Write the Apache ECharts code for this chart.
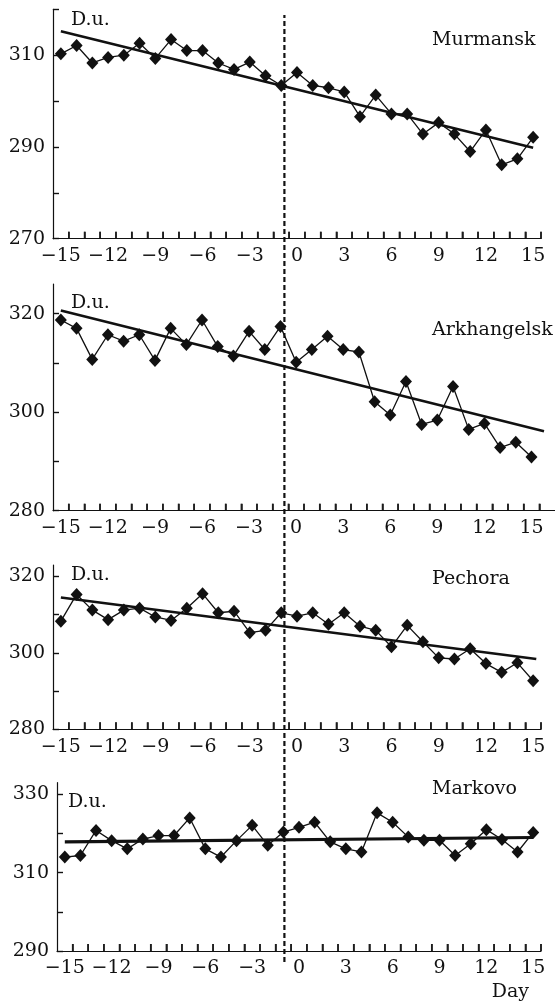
<!DOCTYPE html>
<html>
<head>
<meta charset="utf-8">
<title>Total ozone around the event day</title>
<script src="https://cdn.jsdelivr.net/npm/echarts@6/dist/echarts.min.js"></script>
<style>
  html, body { margin: 0; padding: 0; background: #fff; }
  #chart { width: 555px; height: 1003px; }
</style>
</head>
<body>
<div id="chart"></div>
<script>
const FONT = "'DejaVu Serif', serif"
const INK = '#111'

// days relative to the event
const days = [-15, -14, -13, -12, -11, -10, -9, -8, -7, -6, -5, -4, -3, -2, -1,
  0, 1, 2, 3, 4, 5, 6, 7, 8, 9, 10, 11, 12, 13, 14, 15]

// total ozone, D.u.
const murmansk = [310.3, 312.1, 308.3, 309.5, 310.0, 312.6, 309.3, 313.4, 311.0, 311.0, 308.3, 306.9, 308.5, 305.5, 303.4,
  306.2, 303.4, 302.9, 302.0, 296.6, 301.3, 297.2, 297.2, 292.8, 295.3, 292.8, 289.0, 293.7, 286.1, 287.4, 292.1]
const arkhangelsk = [318.7, 317.0, 310.7, 315.7, 314.4, 315.7, 310.5, 317.0, 313.7, 318.7, 313.3, 311.4, 316.4, 312.7, 317.4,
  310.1, 312.7, 315.4, 312.7, 312.2, 302.1, 299.4, 306.2, 297.5, 298.4, 305.2, 296.5, 297.7, 292.8, 293.9, 290.9]
const pechora = [308.3, 315.3, 311.2, 308.7, 311.2, 311.7, 309.4, 308.5, 311.7, 315.5, 310.5, 310.9, 305.3, 305.9, 310.5,
  309.6, 310.5, 307.5, 310.5, 307.0, 305.9, 301.6, 307.2, 302.9, 298.7, 298.4, 301.1, 297.2, 294.9, 297.4, 292.7]
const markovo = [314.0, 314.4, 320.8, 318.2, 316.1, 318.6, 319.5, 319.5, 324.0, 316.1, 314.0, 318.2, 322.1, 317.0, 320.4,
  321.6, 322.9, 317.9, 316.1, 315.3, 325.3, 322.9, 319.1, 318.3, 318.3, 314.4, 317.4, 321.0, 318.5, 315.3, 320.3]

// linear trends, [day, D.u.] end points
const murmanskTrend = [[-15, 315.2], [15, 289.8]]
const arkhangelskTrend = [[-15, 320.6], [15.8, 296.1]]
const pechoraTrend = [[-15, 314.5], [15.2, 298.4]]
const markovoTrend = [[-15, 317.9], [15, 319.0]]

// axis ticks and labels
const dayLabels = [-15, -12, -9, -6, -3, 0, 3, 6, 9, 12, 15]
const dayTicks = [-14.5, -13.5, -12.5, -11.5, -10.5, -9.5, -8.5, -7.5, -6.5, -5.5, -4.5, -3.5, -2.5, -1.5, -0.5,
  0.5, 1.5, 2.5, 3.5, 4.5, 5.5, 6.5, 7.5, 8.5, 9.5, 10.5, 11.5, 12.5, 13.5, 14.5, 15.5]
const murmanskTicks = [270, 280, 290, 300, 310, 320]
const murmanskLabels = [270, 290, 310]
const arkhangelskTicks = [280, 290, 300, 310, 320]
const arkhangelskLabels = [280, 300, 320]
const pechoraTicks = [280, 290, 300, 310, 320]
const pechoraLabels = [280, 300, 320]
const markovoTicks = [290, 300, 310, 320, 330]
const markovoLabels = [290, 310, 330]

// day of the event (dashed line through all panels)
const eventDay = -0.8

const panels = [
  { name: 'Murmansk', values: murmansk, trend: murmanskTrend, ticks: murmanskTicks, labels: murmanskLabels,
    yMin: 270, yMax: 320, xMax: 15.5, top: 9.3, bottom: 764.3, left: 53, right: 14, titleTop: 31, unitGap: -10.7, unitPad: 18 },
  { name: 'Arkhangelsk', values: arkhangelsk, trend: arkhangelskTrend, ticks: arkhangelskTicks, labels: arkhangelskLabels,
    yMin: 280, yMax: 326, xMax: 16.5, top: 284, bottom: 492.3, left: 53, right: 0, titleTop: 321, unitGap: -18.7, unitPad: 18 },
  { name: 'Pechora', values: pechora, trend: pechoraTrend, ticks: pechoraTicks, labels: pechoraLabels,
    yMin: 280, yMax: 323, xMax: 15.5, top: 565, bottom: 273.7, left: 53, right: 14, titleTop: 570, unitGap: -10, unitPad: 18 },
  { name: 'Markovo', values: markovo, trend: markovoTrend, ticks: markovoTicks, labels: markovoLabels,
    yMin: 290, yMax: 333, xMax: 15.5, top: 782.7, bottom: 52, left: 57, right: 14, titleTop: 780, unitGap: -19, unitPad: 11, dayName: true },
]

function dayText(v) {
  return v < 0 ? '\u2212' + (-v) : String(v)
}

const grids = []
const xAxes = []
const yAxes = []
const series = []
const titles = []

panels.forEach((p, i) => {
  grids.push({ left: p.left, right: p.right, top: p.top, bottom: p.bottom })
  titles.push({
    text: p.name, left: 432, top: p.titleTop, padding: 0,
    textStyle: { fontFamily: FONT, fontSize: 19, fontWeight: 'normal', color: INK },
  })
  xAxes.push({
    type: 'value', gridIndex: i, min: -15.5, max: p.xMax,
    axisLine: { show: true, onZero: false, lineStyle: { color: INK, width: 1.2 } },
    axisTick: { show: true, inside: true, length: 7, customValues: dayTicks, lineStyle: { color: INK, width: 1.5 } },
    axisLabel: { fontFamily: FONT, fontSize: 19, color: INK, margin: 8, customValues: dayLabels, formatter: dayText },
    splitLine: { show: false },
    name: p.dayName ? 'Day' : '',
    nameLocation: 'end',
    nameGap: 0,
    nameTextStyle: { fontFamily: FONT, fontSize: 19, color: INK, align: 'right', verticalAlign: 'top', padding: [32, 12, 0, 0] },
  })
  yAxes.push({
    type: 'value', gridIndex: i, min: p.yMin, max: p.yMax,
    axisLine: { show: true, onZero: false, lineStyle: { color: INK, width: 1.2 } },
    axisTick: { show: true, inside: true, length: 6, customValues: p.ticks, lineStyle: { color: INK, width: 1.4 } },
    axisLabel: { fontFamily: FONT, fontSize: 19, color: INK, margin: 8, customValues: p.labels },
    splitLine: { show: false },
    name: 'D.u.',
    nameLocation: 'end',
    nameGap: p.unitGap,
    nameTextStyle: { fontFamily: FONT, fontSize: 19, color: INK, align: 'left', verticalAlign: 'middle', padding: [0, 0, 0, p.unitPad] },
  })
  // day ticks again as thin bars standing on the axis, in case the axis ticks are dropped
  series.push({
    type: 'scatter', xAxisIndex: i, yAxisIndex: i,
    data: dayTicks.map(t => [t, p.yMin]),
    symbol: 'rect', symbolSize: [1.5, 7], symbolOffset: [0, -3.5],
    itemStyle: { color: INK }, silent: true, clip: false,
    z: 5,
  })
  series.push({
    type: 'line', xAxisIndex: i, yAxisIndex: i,
    data: p.trend, symbol: 'none', silent: true,
    lineStyle: { color: INK, width: i === 3 ? 3.2 : 2.6 },
    z: 2,
  })
  series.push({
    type: 'line', xAxisIndex: i, yAxisIndex: i,
    data: days.map((d, k) => [d, p.values[k]]),
    symbol: 'diamond', symbolSize: [12, 13],
    itemStyle: { color: INK },
    lineStyle: { color: INK, width: 1.3 },
    z: 3,
  })
})

// overlay grid spanning the whole figure for the event line
grids.push({ left: 53, right: 14, top: 15, bottom: 41 })
xAxes.push({ type: 'value', gridIndex: 4, min: -15.5, max: 15.5, show: false })
yAxes.push({ type: 'value', gridIndex: 4, min: 0, max: 1, show: false })
series.push({
  type: 'line', xAxisIndex: 4, yAxisIndex: 4,
  data: [[eventDay, 0], [eventDay, 1]], symbol: 'none', silent: true,
  lineStyle: { color: INK, width: 2.2, type: [5, 3] },
  z: 4,
})

const chart = echarts.init(document.getElementById('chart'), null, { renderer: 'canvas' })
chart.setOption({
  backgroundColor: '#fff',
  animation: false,
  title: titles,
  grid: grids,
  xAxis: xAxes,
  yAxis: yAxes,
  series,
})

window.addEventListener('resize', () => chart.resize())
</script>
</body>
</html>
